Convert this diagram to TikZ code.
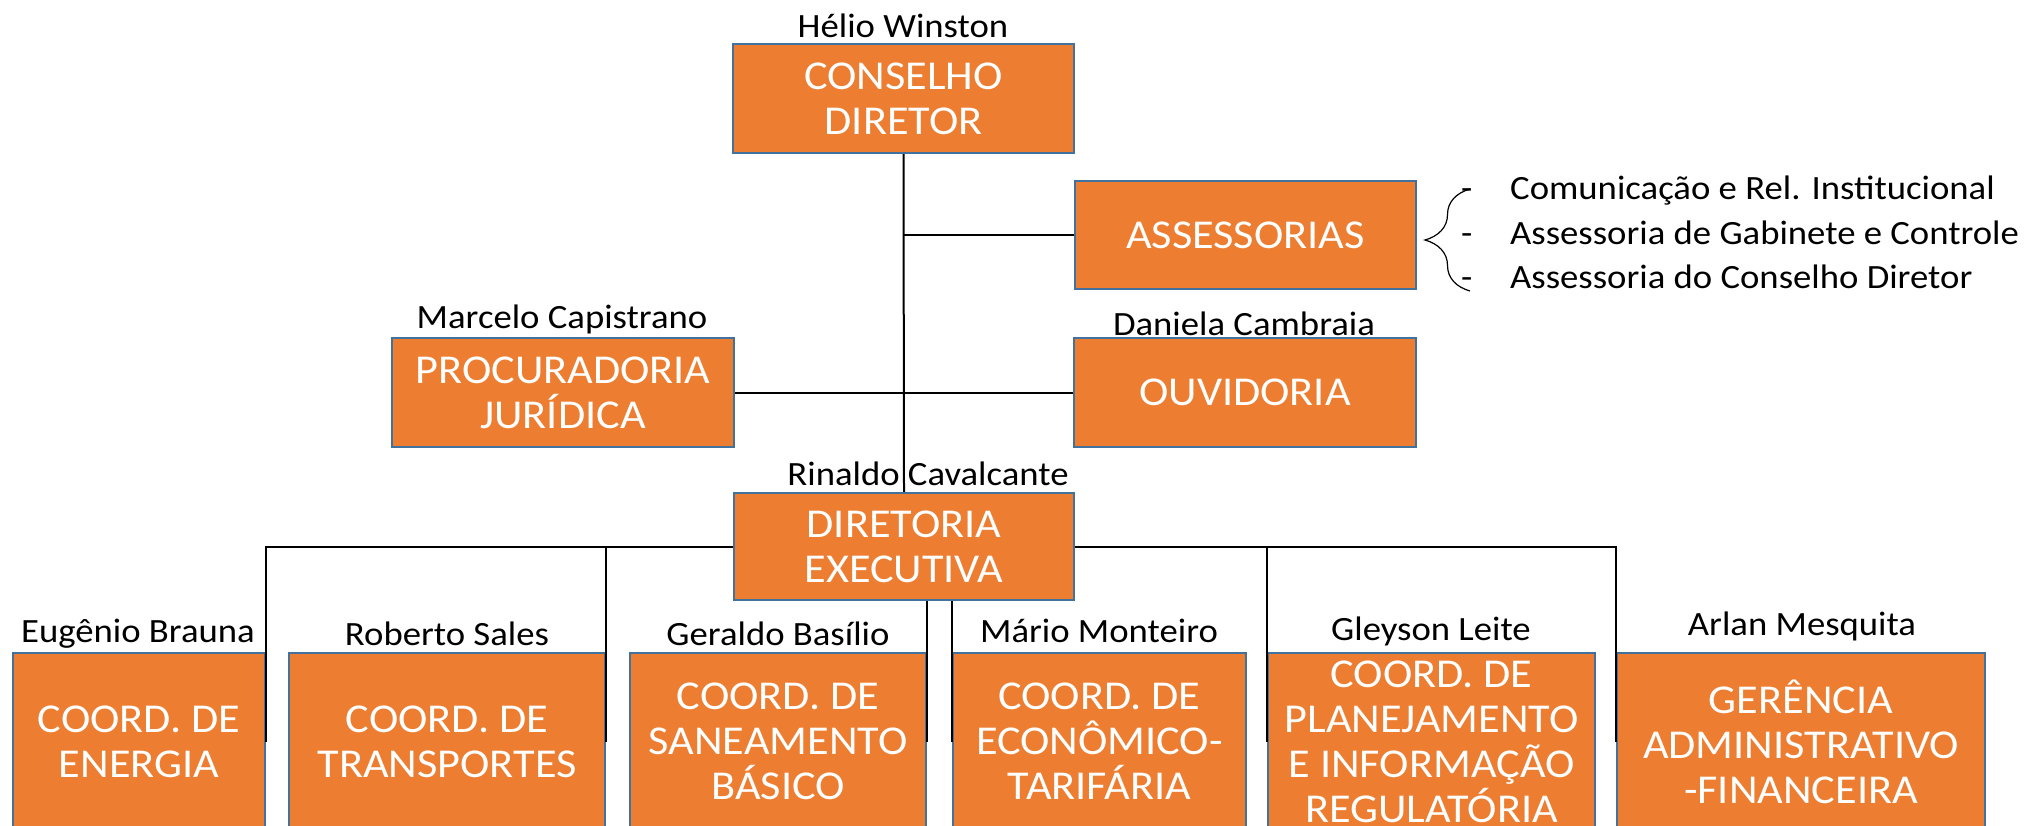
\documentclass[tikz,border=0pt]{standalone}
\usepackage{fontspec}
\setmainfont{Carlito}[FakeStretch=1.08]
\usetikzlibrary{decorations.pathreplacing}
\definecolor{boxfill}{HTML}{ED7D31}
\definecolor{boxline}{HTML}{41719C}
\tikzset{
  orgbox/.style={draw=boxline, fill=boxfill, line width=2pt, text=white, align=center,
    inner sep=0pt, font=\fontsize{41}{45}\selectfont},
  person/.style={font=\fontsize{34}{40}\selectfont, anchor=base, inner sep=0pt},
  listitem/.style={font=\fontsize{34}{40}\selectfont, anchor=base west, inner sep=0pt},
  conn/.style={draw=black, line width=2pt},
}
\begin{document}
\begin{tikzpicture}[x=1pt,y=-1pt]
\clip (0,0) rectangle (2031,825);
\fill[white] (0,0) rectangle (2031,825);
% upper boxes
\node[orgbox, minimum width=341pt, minimum height=109pt] (cons) at (903.5,98.5) {CONSELHO\\DIRETOR};
\node[orgbox, minimum width=341pt, minimum height=108pt] (ass) at (1245.5,235) {ASSESSORIAS};
\node[orgbox, minimum width=342pt, minimum height=109pt] (proc) at (563,392.5) {PROCURADORIA\\JURÍDICA};
\node[orgbox, minimum width=342pt, minimum height=109pt] (ouv) at (1245,392.5) {OUVIDORIA};
\node[orgbox, minimum width=340pt, minimum height=107pt] (dir) at (904,546.5) {DIRETORIA\\EXECUTIVA};
% lower boxes
\node[orgbox, minimum width=252pt, minimum height=177pt] (en) at (139,741.5) {COORD. DE\\ENERGIA};
\node[orgbox, minimum width=316pt, minimum height=177pt] (tr) at (447,741.5) {COORD. DE\\TRANSPORTES};
\node[orgbox, minimum width=296pt, minimum height=177pt] (san) at (778,741.5) {COORD. DE\\SANEAMENTO\\BÁSICO};
\node[orgbox, minimum width=293pt, minimum height=177pt] (eco) at (1099.5,741.5) {COORD. DE\\ECONÔMICO-\\TARIFÁRIA};
\node[orgbox, minimum width=327pt, minimum height=177pt] (pl) at (1431.5,741.5) {COORD. DE\\PLANEJAMENTO\\E INFORMAÇÃO\\REGULATÓRIA};
\node[orgbox, minimum width=368pt, minimum height=177pt] (ge) at (1801,741.5) {GERÊNCIA\\ADMINISTRATIVO\\-FINANCEIRA};
% person names
\node[person] (hel) at (903,37) {Hélio Winston};
\node[person] (marc) at (562,328) {Marcelo Capistrano};
\node[person] (dan) at (1244,335) {Daniela Cambraia};
\node[person] (rin) at (928,485) {Rinaldo Cavalcante};
\node[person] (eug) at (138,642) {Eugênio Brauna};
\node[person] (rob) at (447,645) {Roberto Sales};
\node[person] (ger) at (778,645) {Geraldo Basílio};
\node[person] (mar) at (1099,642) {Mário Monteiro};
\node[person] (gle) at (1431,640) {Gleyson Leite};
\node[person] (arl) at (1802,635) {Arlan Mesquita};
% connectors
\draw[conn] (cons.south) -- (dir.north);
\draw[conn] (ass.west) -- (ass.west -| cons.south);
\draw[conn] (proc.east) -- (ouv.west);
\draw[conn] (dir.west) -| (en.east);
\draw[conn] (dir.west) -| (tr.east);
\draw[conn] (dir.east) -| (pl.west);
\draw[conn] (dir.east) -| (ge.west);
\draw[conn] (dir.south -| san.east) -- (san.east);
\draw[conn] (dir.south -| eco.west) -- (eco.west);
% brace and list
\coordinate (bbot) at (1470,291);
\coordinate (btop) at (1470,189);
\draw[line width=1.2pt, decorate, decoration={brace, amplitude=45pt}] (bbot) -- (btop);
\node[listitem] (l1) at (1461,199) {\makebox[49pt][l]{-}Comunicação e Rel. Institucional};
\node[listitem] (l2) at (1461,244) {\makebox[49pt][l]{-}Assessoria de Gabinete e Controle};
\node[listitem] (l3) at (1461,288) {\makebox[49pt][l]{-}Assessoria do Conselho Diretor};
\end{tikzpicture}
\end{document}
